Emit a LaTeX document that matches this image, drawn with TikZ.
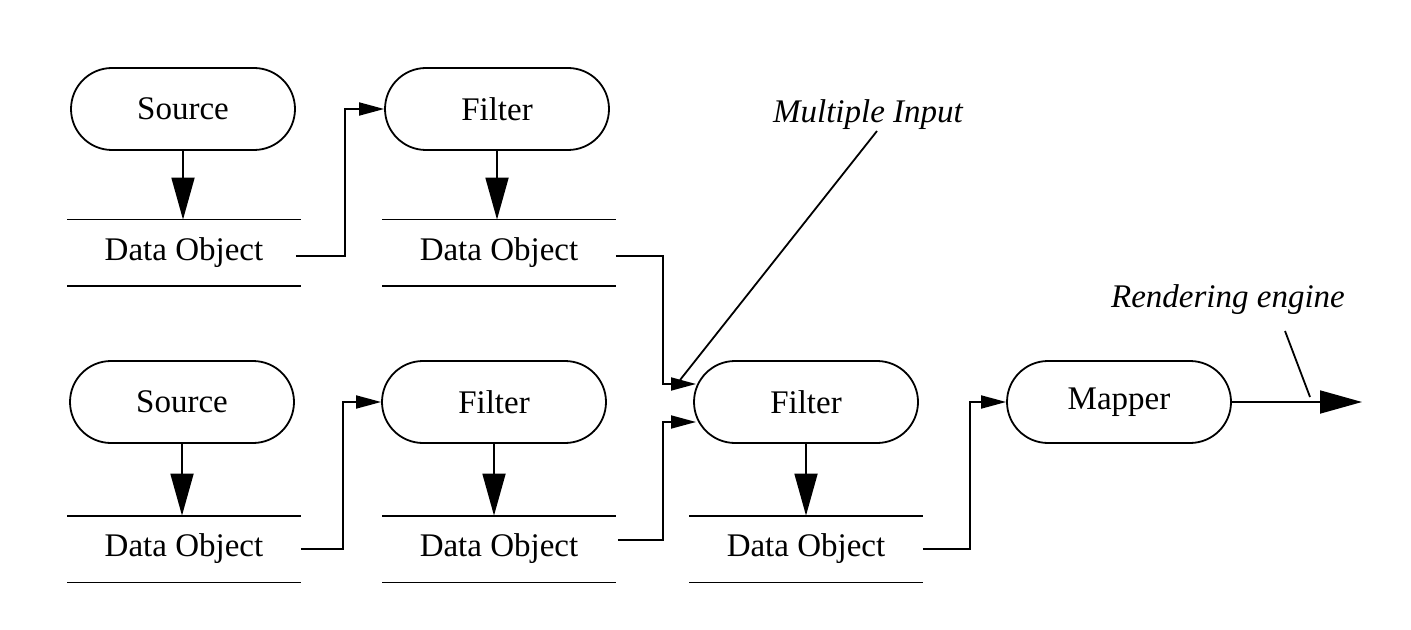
\documentclass[tikz,border=0pt]{standalone}
\usepackage{fontspec}
\setmainfont{Liberation Serif}
\usetikzlibrary{arrows.meta,calc}
\begin{document}
\begin{tikzpicture}[x=0.5pt,y=-0.5pt,
  font=\fontsize{16.5}{19}\selectfont,
  line width=0.9pt,
  proc/.style={draw,rectangle,rounded corners=20.5pt,minimum width=112pt,minimum height=41pt,inner sep=0pt},
  dobj/.style={rectangle,minimum width=116pt,minimum height=32.5pt,inner sep=0pt},
  bigarrow/.style={-{Triangle[length=21pt,width=11.5pt]}},
  smallarrow/.style={-{Triangle[length=12.5pt,width=6.5pt]}},
  lbl/.style={font=\fontsize{16.5}{19}\selectfont\itshape}]
\useasboundingbox (0,0) rectangle (1411,630);
% processes
\node[proc] (s1) at (183,109) {Source};
\node[proc] (f1) at (497,109) {Filter};
\node[proc] (s2) at (182,402) {Source};
\node[proc] (f2) at (494,402) {Filter};
\node[proc] (f3) at (806,402) {Filter};
\node[proc] (m) at (1119,402) {Mapper};
% data objects
\node[dobj] (d1) at (184,253) {Data Object};
\node[dobj] (d2) at (499,253) {Data Object};
\node[dobj] (d4) at (184,549) {Data Object};
\node[dobj] (d5) at (499,549) {Data Object};
\node[dobj] (d6) at (806,549) {Data Object};
\foreach \d in {d1,d2,d4,d5,d6}{
  \draw (\d.north west) -- (\d.north east);
  \draw (\d.south west) -- (\d.south east);
}
% vertical arrows
\draw[bigarrow] (s1.south) -- (s1.south |- d1.north);
\draw[bigarrow] (f1.south) -- (f1.south |- d2.north);
\draw[bigarrow] (s2.south) -- (s2.south |- d4.north);
\draw[bigarrow] (f2.south) -- (f2.south |- d5.north);
\draw[bigarrow] (f3.south) -- (f3.south |- d6.north);
% connectors
\draw[smallarrow] ($(d1.east)+(-5,3)$) -- (345,256) |- (f1.west);
\draw[smallarrow] ($(d4.east)$) -- (343,549) |- (f2.west);
\coordinate (in1) at (696,384);
\coordinate (in2) at (696,422);
\draw[smallarrow] ($(d2.east)+(0,3)$) -- (663,256) |- (in1);
\draw[smallarrow] ($(d5.east)+(2,-9)$) -- (663,540) |- (in2);
\draw[smallarrow] (d6.east) -- (970,549) |- (m.west);
\coordinate (out) at (1362,402);
\draw[bigarrow] (m.east) -- (out);
% labels
\node[lbl] (mi) at (868,115) {Multiple Input};
\node[lbl] (re) at (1228,300) {Rendering engine};
\coordinate (mi1) at (877,131);
\coordinate (mi2) at (680,380);
\draw (mi1) -- (mi2);
\coordinate (re1) at (1285,331);
\coordinate (re2) at (1310,397);
\draw (re1) -- (re2);
\end{tikzpicture}
\end{document}
